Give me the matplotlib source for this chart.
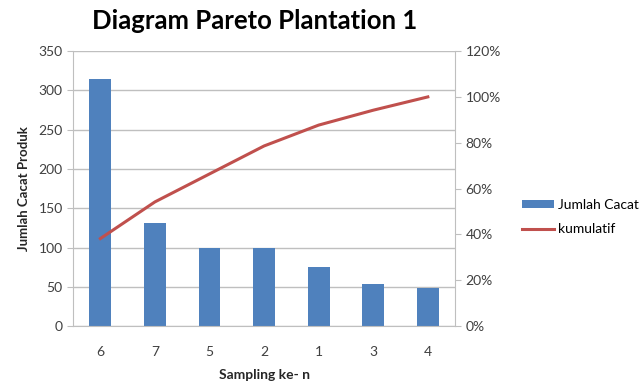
import matplotlib.pyplot as plt
import numpy as np
from matplotlib.ticker import FuncFormatter

plt.rcParams['font.family'] = ['Lato', 'DejaVu Sans']

sampling = ['6', '7', '5', '2', '1', '3', '4']
jumlah_cacat = [314, 131, 100, 100, 75, 53, 48]
kumulatif = [38.2, 54.2, 66.4, 78.6, 87.7, 94.2, 100.0]

bar_color = '#4F81BD'
line_color = '#C0504D'
grid_color = '#BFBFBF'
text_color = '#404040'

fig = plt.figure(figsize=(6.41, 3.81), dpi=100)
ax = fig.add_axes([0.114, 0.144, 0.596, 0.722])
ax2 = ax.twinx()

x = np.arange(len(sampling))
bars = ax.bar(x, jumlah_cacat, width=0.4, color=bar_color, label='Jumlah Cacat', zorder=2)
line, = ax2.plot(x, kumulatif, color=line_color, linewidth=2.2, label='kumulatif', zorder=3)

ax.set_xlim(-0.5, len(sampling) - 0.5)
ax.set_ylim(0, 350)
ax.set_yticks(range(0, 351, 50))
ax2.set_ylim(0, 120)
ax2.set_yticks(range(0, 121, 20))
ax2.yaxis.set_major_formatter(FuncFormatter(lambda v, _: f'{int(v)}%'))

ax.set_xticks(x)
ax.set_xticklabels(sampling)
ax.yaxis.grid(True, color=grid_color, linewidth=1)
ax.set_axisbelow(True)

for a in (ax, ax2):
    a.spines['top'].set_visible(False)
    for s in ('left', 'right', 'bottom'):
        a.spines[s].set_color(grid_color)
    a.tick_params(colors=grid_color, labelcolor=text_color, labelsize=10, length=4)
ax.tick_params(axis='x', length=0, pad=14)
ax.spines['right'].set_visible(False)
ax2.spines['left'].set_visible(False)
ax2.spines['bottom'].set_visible(False)

ax.set_xlabel('Sampling ke- n', fontsize=10, fontweight='bold', color='#262626', labelpad=8)
ax.set_ylabel('Jumlah Cacat Produk', fontsize=9.5, fontweight='bold', color='#262626', labelpad=6)

fig.text(0.398, 0.945, 'Diagram Pareto Plantation 1', ha='center', va='center',
         fontsize=18.5, fontweight='bold', color='black')

fig.legend([bars, line], ['Jumlah Cacat', 'kumulatif'], loc='center left',
           bbox_to_anchor=(0.795, 0.43), frameon=False, fontsize=10,
           handlelength=2.3, handleheight=0.5, labelspacing=0.9, handletextpad=0.3)

fig.savefig('out.png', dpi=100)
